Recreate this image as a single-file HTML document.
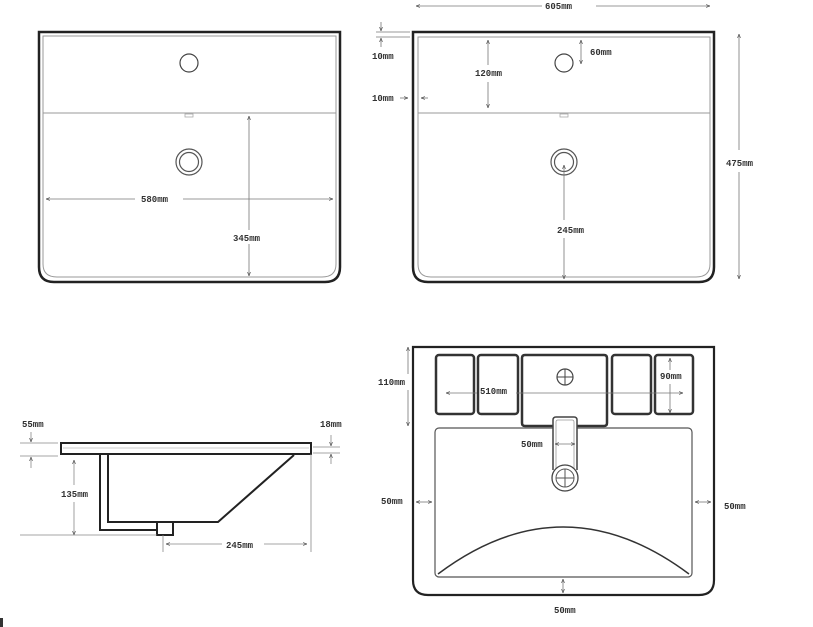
<!DOCTYPE html>
<html><head><meta charset="utf-8"><style>
html,body{margin:0;padding:0;background:#fff;width:813px;height:627px;overflow:hidden}
svg{display:block}
text{font-family:"Liberation Mono",monospace;font-size:9px;font-weight:bold;fill:#333}
</style></head><body>
<svg width="813" height="627" viewBox="0 0 813 627" xmlns="http://www.w3.org/2000/svg">
<defs>
<marker id="a" viewBox="0 0 6 6" refX="6" refY="3" markerWidth="5" markerHeight="5" orient="auto-start-reverse"><path d="M0,0.8 L6,3 L0,5.2" fill="none" stroke="#555" stroke-width="1"/></marker>
</defs>
<g fill="none" stroke="#222">
<!-- top-left view -->
<path d="M39,32 H340 V267 Q340,282 325,282 H54 Q39,282 39,267 Z" stroke-width="2.5"/>
<path d="M43,36 H336 V264 Q336,277 322,277 H57 Q43,277 43,264 Z" stroke="#999" stroke-width="1"/>
<line x1="43" y1="113" x2="336" y2="113" stroke="#999"/>
<rect x="185" y="114" width="8" height="3" stroke="#aaa" stroke-width="0.8"/>
<circle cx="189" cy="63" r="9" stroke="#444" stroke-width="1.2"/>
<circle cx="189" cy="162" r="13" stroke="#555" stroke-width="1.2"/>
<circle cx="189" cy="162" r="9.5" stroke="#555" stroke-width="1.2"/>
<g stroke="#777" stroke-width="0.8">
<line x1="46" y1="199" x2="135" y2="199" marker-start="url(#a)"/>
<line x1="183" y1="199" x2="333" y2="199" marker-end="url(#a)"/>
<line x1="249" y1="116" x2="249" y2="230" marker-start="url(#a)"/>
<line x1="249" y1="244" x2="249" y2="276" marker-end="url(#a)"/>
</g>
<!-- top-right view -->
<path d="M413,32 H714 V267 Q714,282 699,282 H428 Q413,282 413,267 Z" stroke-width="2.5"/>
<path d="M418,37 H710 V264 Q710,277 696,277 H431 Q418,277 418,264 Z" stroke="#999" stroke-width="1"/>
<line x1="418" y1="113" x2="710" y2="113" stroke="#999"/>
<rect x="560" y="114" width="8" height="3" stroke="#aaa" stroke-width="0.8"/>
<circle cx="564" cy="63" r="9" stroke="#444" stroke-width="1.2"/>
<circle cx="564" cy="162" r="13" stroke="#555" stroke-width="1.2"/>
<circle cx="564" cy="162" r="9.5" stroke="#555" stroke-width="1.2"/>
<g stroke="#777" stroke-width="0.8">
<line x1="416" y1="6" x2="542" y2="6" marker-start="url(#a)"/>
<line x1="596" y1="6" x2="710" y2="6" marker-end="url(#a)"/>
<line x1="739" y1="34" x2="739" y2="150" marker-start="url(#a)"/>
<line x1="739" y1="172" x2="739" y2="279" marker-end="url(#a)"/>
<line x1="376" y1="32" x2="410" y2="32"/>
<line x1="376" y1="37" x2="410" y2="37"/>
<line x1="381" y1="22" x2="381" y2="31" marker-end="url(#a)"/>
<line x1="381" y1="47" x2="381" y2="38" marker-end="url(#a)"/>
<line x1="400" y1="98" x2="408" y2="98" marker-end="url(#a)"/>
<line x1="428" y1="98" x2="421" y2="98" marker-end="url(#a)"/>
<line x1="488" y1="40" x2="488" y2="65" marker-start="url(#a)"/>
<line x1="488" y1="82" x2="488" y2="108" marker-end="url(#a)"/>
<line x1="581" y1="40" x2="581" y2="64" marker-start="url(#a)" marker-end="url(#a)"/>
<line x1="564" y1="165" x2="564" y2="220" marker-start="url(#a)"/>
<line x1="564" y1="238" x2="564" y2="279" marker-end="url(#a)"/>
</g>
<!-- side view -->
<rect x="61" y="443" width="250" height="11" stroke-width="2"/>
<line x1="63" y1="448" x2="309" y2="448" stroke="#bbb" stroke-width="0.8"/>
<path d="M100,454 V530 H157" stroke-width="2"/>
<path d="M108,454 V522 H218 L294,455" stroke-width="2"/>
<rect x="157" y="522" width="16" height="13" stroke-width="2"/>
<g stroke="#888" stroke-width="0.8">
<line x1="20" y1="443" x2="58" y2="443"/>
<line x1="20" y1="456" x2="58" y2="456"/>
<line x1="31" y1="432" x2="31" y2="442" marker-end="url(#a)"/>
<line x1="31" y1="468" x2="31" y2="457" marker-end="url(#a)"/>
<line x1="313" y1="447" x2="340" y2="447"/>
<line x1="313" y1="453" x2="340" y2="453"/>
<line x1="331" y1="435" x2="331" y2="446" marker-end="url(#a)"/>
<line x1="331" y1="464" x2="331" y2="454" marker-end="url(#a)"/>
<line x1="74" y1="460" x2="74" y2="485" marker-start="url(#a)"/>
<line x1="74" y1="502" x2="74" y2="535" marker-end="url(#a)"/>
<line x1="20" y1="535" x2="157" y2="535"/>
<line x1="311" y1="454" x2="311" y2="552"/>
<line x1="163" y1="535" x2="163" y2="552"/>
<line x1="166" y1="544" x2="222" y2="544" marker-start="url(#a)"/>
<line x1="264" y1="544" x2="307" y2="544" marker-end="url(#a)"/>
</g>
<!-- bottom-right view -->
<path d="M413,347 H714 V580 Q714,595 699,595 H428 Q413,595 413,580 Z" stroke-width="2.2"/>
<g stroke="#333" stroke-width="2.5">
<rect x="436" y="355" width="38" height="59" rx="3"/>
<rect x="478" y="355" width="40" height="59" rx="3"/>
<rect x="612" y="355" width="39" height="59" rx="3"/>
<rect x="655" y="355" width="38" height="59" rx="3"/>
<path d="M553,426 H525 Q522,426 522,423 V358 Q522,355 525,355 H604 Q607,355 607,358 V423 Q607,426 604,426 H577"/>
</g>
<rect x="435" y="428" width="257" height="149" rx="4" stroke="#555" stroke-width="1.2"/>
<path d="M438,574 Q563,480 689,574" stroke="#333" stroke-width="1.5"/>
<circle cx="565" cy="377" r="8" stroke="#444" stroke-width="1.2"/>
<path d="M557,377 H573 M565,369 V385" stroke="#444" stroke-width="1"/>
<path d="M553,470 V420 Q553,417 556,417 H574 Q577,417 577,420 V470" stroke="#444" stroke-width="1.5" fill="#fff"/>
<path d="M556,470 V422 Q556,420 558,420 H572 Q574,420 574,422 V470" stroke="#999" stroke-width="0.8"/>
<circle cx="565" cy="478" r="13" stroke="#444" stroke-width="1.3" fill="#fff"/>
<circle cx="565" cy="478" r="9" stroke="#555" stroke-width="1"/>
<path d="M556,478 H574 M565,469 V487" stroke="#555" stroke-width="1"/>
<g stroke="#777" stroke-width="0.8">
<line x1="446" y1="393" x2="477" y2="393" marker-start="url(#a)"/>
<line x1="516" y1="393" x2="683" y2="393" marker-end="url(#a)"/>
<line x1="670" y1="358" x2="670" y2="370" marker-start="url(#a)"/>
<line x1="670" y1="384" x2="670" y2="413" marker-end="url(#a)"/>
<line x1="408" y1="347" x2="408" y2="374" marker-start="url(#a)"/>
<line x1="408" y1="390" x2="408" y2="426" marker-end="url(#a)"/>
<line x1="555" y1="444" x2="575" y2="444" marker-start="url(#a)" marker-end="url(#a)"/>
<line x1="416" y1="502" x2="432" y2="502" marker-start="url(#a)" marker-end="url(#a)"/>
<line x1="695" y1="502" x2="711" y2="502" marker-start="url(#a)" marker-end="url(#a)"/>
<line x1="563" y1="579" x2="563" y2="593" marker-start="url(#a)" marker-end="url(#a)"/>
</g>
</g>
<rect x="0" y="618" width="3" height="9" fill="#333"/>
<text x="141" y="202">580mm</text>
<text x="233" y="241">345mm</text>
<text x="545" y="9">605mm</text>
<text x="372" y="59">10mm</text>
<text x="372" y="101">10mm</text>
<text x="475" y="76">120mm</text>
<text x="590" y="55">60mm</text>
<text x="557" y="233">245mm</text>
<text x="726" y="166">475mm</text>
<text x="22" y="427">55mm</text>
<text x="320" y="427">18mm</text>
<text x="61" y="497">135mm</text>
<text x="226" y="548">245mm</text>
<text x="378" y="385">110mm</text>
<text x="480" y="394">510mm</text>
<text x="660" y="379">90mm</text>
<text x="521" y="447">50mm</text>
<text x="381" y="504">50mm</text>
<text x="724" y="509">50mm</text>
<text x="554" y="613">50mm</text>
</svg>
</body></html>
